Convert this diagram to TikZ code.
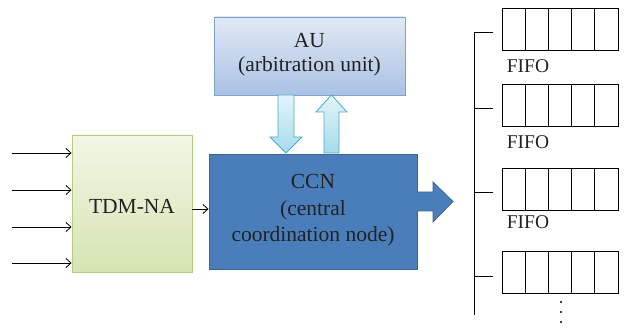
\documentclass[tikz,border=0pt]{standalone}
\usepackage{fontspec}
\setmainfont{Liberation Serif}
\usetikzlibrary{arrows.meta,calc}
\definecolor{txt}{HTML}{222222}
\definecolor{auTop}{HTML}{E2E9F5}
\definecolor{auBot}{HTML}{A9C1E3}
\definecolor{auLine}{HTML}{7FA0D2}
\definecolor{ccnFill}{HTML}{4A7EBB}
\definecolor{ccnLine}{HTML}{3A6595}
\definecolor{tdTop}{HTML}{F2F6E6}
\definecolor{tdBot}{HTML}{D6E4B2}
\definecolor{tdLine}{HTML}{B3CC82}
\definecolor{arTop}{HTML}{E2F4FA}
\definecolor{arBot}{HTML}{A6DBEC}
\definecolor{arLine}{HTML}{4BACC6}
\tikzset{
  x=1pt, y=-1pt,
  lbl/.style={text=txt, font=\fontsize{21.5}{24}\selectfont, align=center},
  box/.style={draw, rectangle, inner sep=0pt, line width=0.9pt},
  fifobox/.style={draw=black, line width=0.8pt, rectangle, minimum width=116pt, minimum height=42pt, inner sep=0pt,
    path picture={\foreach \k in {1,2,3,4}{\draw[line width=0.8pt] ($(path picture bounding box.south west)!\k/5!(path picture bounding box.south east)$) -- ($(path picture bounding box.north west)!\k/5!(path picture bounding box.north east)$);}}},
  inarrow/.style={line width=0.8pt, -{Straight Barb[length=5pt,width=9pt]}},
  blockarrow/.style={draw=arLine, line width=0.8pt, top color=arTop, bottom color=arBot},
  bus/.style={line width=0.9pt},
  fifolbl/.style={text=txt, font=\fontsize{19.5}{22}\selectfont, inner sep=0pt}
}
\begin{document}
\begin{tikzpicture}
\useasboundingbox (0,0) rectangle (624,328);
% main blocks
\node[box, draw=auLine, top color=auTop, bottom color=auBot, minimum width=191pt, minimum height=78pt] (au) at (309.5,56) {};
\node[lbl] at ($(au.center)+(0,-1)$) {AU\\(arbitration unit)};
\node[box, draw=ccnLine, fill=ccnFill, minimum width=208pt, minimum height=115pt] (ccn) at (313,211.5) {};
\node[lbl, font=\fontsize{21.5}{26.5}\selectfont] at ($(ccn.center)+(0,-1)$) {CCN\\(central\\coordination node)};
\node[box, draw=tdLine, top color=tdTop, bottom color=tdBot, minimum width=120pt, minimum height=137pt] (tdm) at (132,203.5) {};
\node[lbl] at ($(tdm.center)+(0,3)$) {TDM-NA};

% block arrows between AU and CCN
\draw[blockarrow] (278,95) -- (294,95) -- (294,137) -- (302,137) -- (286,153) -- (270,137) -- (278,137) -- cycle;
\draw[blockarrow] (324,153) -- (339,153) -- (339,112) -- (347,112) -- (331.5,95) -- (316,112) -- (324,112) -- cycle;

% big output arrow
\draw[draw=ccnLine, fill=ccnFill, line width=0.8pt] (417,192) -- (433,192) -- (433,182) -- (453,201.5) -- (433,222) -- (433,211) -- (417,211);

% input arrows
\foreach \yy [count=\i] in {153,190,227,263}{
  \coordinate (in\i) at (12,\yy);
  \draw[inarrow] (in\i) -- (in\i -| tdm.west);
}
\coordinate (tdout) at (tdm.east |- 0,209);
\draw[inarrow] (tdout) -- (tdout -| ccn.west);

% bus and FIFOs
\coordinate (bustop) at (474,32);
\coordinate (busbot) at (474,315);
\draw[bus] (bustop) -- (busbot);
\node[fifobox] (f1) at (560,29) {};
\node[fifobox] (f2) at (560,105.5) {};
\node[fifobox] (f3) at (560,189) {};
\node[fifobox] (f4) at (560,272) {};
\foreach \yy [count=\i] in {32,108,192,276}{
  \coordinate (t\i) at (474,\yy);
  \coordinate (e\i) at (493,\yy);
  \draw[bus] (t\i) -- (e\i);
}
\node[fifolbl] (l1) at (528,66) {FIFO};
\node[fifolbl] (l2) at (528,142) {FIFO};
\node[fifolbl] (l3) at (528,222) {FIFO};
\foreach \yy in {302,312,322}{
  \fill (561,\yy) circle (1.1pt);
}
\end{tikzpicture}
\end{document}
